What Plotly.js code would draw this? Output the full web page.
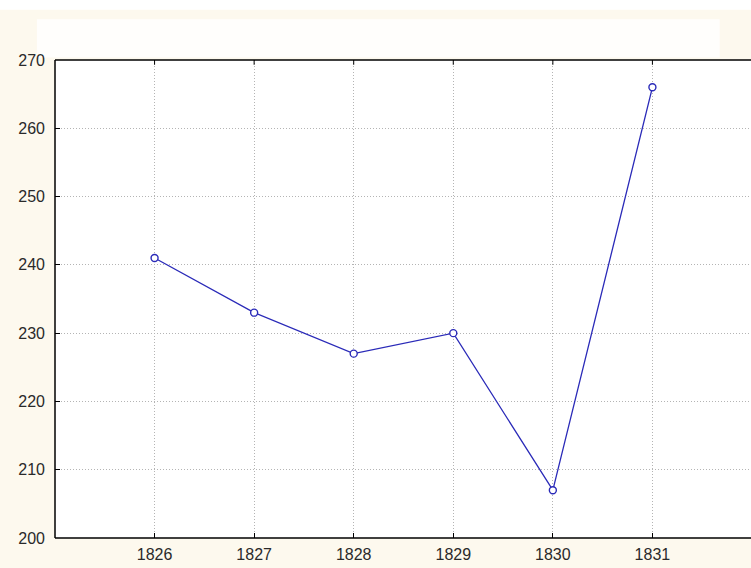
<!DOCTYPE html>
<html>
<head>
<meta charset="utf-8">
<script src="https://cdn.plot.ly/plotly-3.0.1.min.js"></script>
<style>html,body{margin:0;padding:0;background:#fdf9ee;overflow:hidden;}#chart{width:751px;height:568px;}</style>
</head>
<body>
<div id="chart"></div>
<script>
var years = [1826, 1827, 1828, 1829, 1830, 1831];
var values = [241, 233, 227, 230, 207, 266];
var yTicks = [200, 210, 220, 230, 240, 250, 260, 270];

var trace = {
  x: years,
  y: values,
  type: 'scatter',
  mode: 'lines+markers',
  line: {color: '#2a2ab8', width: 1.3},
  marker: {symbol: 'circle', size: 7, color: '#ffffff', line: {width: 1.4, color: '#2a2ab8'}},
  cliponaxis: false,
  hoverinfo: 'x+y'
};

var layout = {
  width: 751,
  height: 568,
  margin: {l: 55, r: 0, t: 60, b: 30},
  paper_bgcolor: '#fdf9ee',
  plot_bgcolor: '#ffffff',
  showlegend: false,
  font: {family: 'Liberation Sans, Arial, sans-serif', size: 16, color: '#2a2a2a'},
  xaxis: {
    range: [1825, 1831.99],
    tickvals: years,
    ticktext: years.map(String),
    ticks: 'inside',
    ticklen: 5,
    tickcolor: '#000',
    showline: false,
    mirror: false,
    showgrid: true,
    gridcolor: '#b4b4b4',
    griddash: '1px,2px',
    gridwidth: 1,
    zeroline: false,
    ticklabelstandoff: 5
  },
  yaxis: {
    range: [200, 270],
    tickvals: yTicks,
    ticks: 'inside',
    ticklen: 5,
    tickcolor: '#000',
    showline: false,
    mirror: false,
    showgrid: true,
    gridcolor: '#b4b4b4',
    griddash: '1px,2px',
    gridwidth: 1,
    zeroline: false,
    ticklabelstandoff: 9
  },
  shapes: [
    {type: 'rect', xref: 'paper', yref: 'paper', x0: -0.026, x1: 0.955, y0: 1.005, y1: 1.085,
     fillcolor: '#fffefc', line: {width: 0}, layer: 'below'},
    {type: 'rect', xref: 'paper', yref: 'paper', x0: -0.08, x1: 1.0, y0: 1.105, y1: 1.13,
     fillcolor: '#ffffff', line: {width: 0}, layer: 'below'},
    {type: 'line', xref: 'paper', yref: 'paper', x0: 0, x1: 1, y0: 1, y1: 1,
     line: {color: '#000', width: 1.5}},
    {type: 'line', xref: 'paper', yref: 'paper', x0: 0, x1: 1, y0: 0, y1: 0,
     line: {color: '#000', width: 1.5}},
    {type: 'line', xref: 'paper', yref: 'paper', x0: 0, x1: 0, y0: 0, y1: 1,
     line: {color: '#000', width: 1.5}}
  ]
};

for (var i = 0; i < years.length; i++) {
  layout.shapes.push({type: 'line', xref: 'x', yref: 'paper', x0: years[i], x1: years[i], y0: 1, y1: 0.99,
    line: {color: '#000', width: 1}});
}

Plotly.newPlot('chart', [trace], layout, {displayModeBar: false, staticPlot: true});
</script>
</body>
</html>
